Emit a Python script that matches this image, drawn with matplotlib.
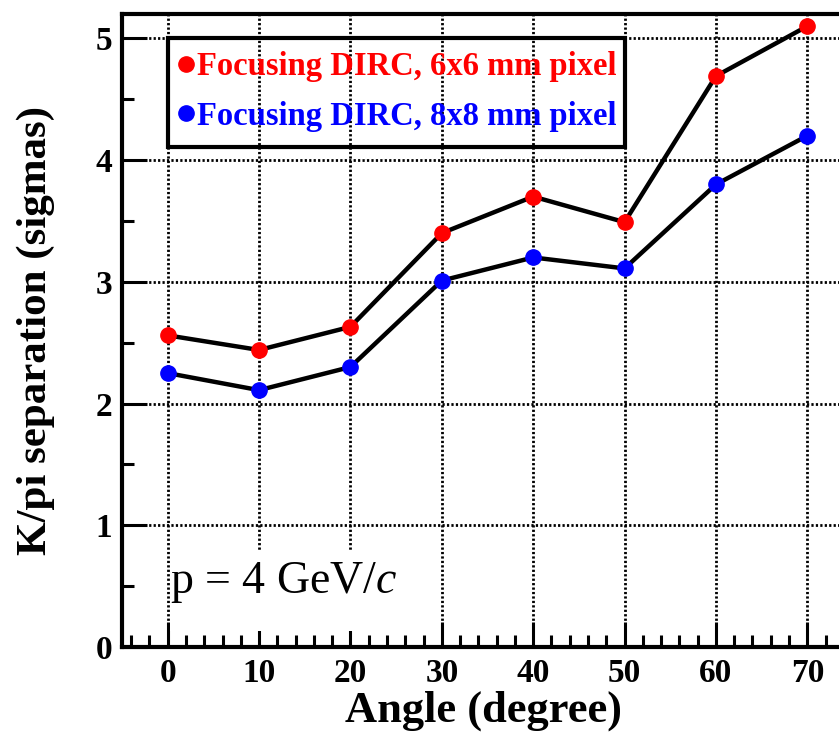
import matplotlib.pyplot as plt
from matplotlib.ticker import MultipleLocator
from matplotlib.lines import Line2D
from matplotlib.patches import Rectangle

angles = [0, 10, 20, 30, 40, 50, 60, 70]
sep_6mm = [2.56, 2.44, 2.63, 3.40, 3.70, 3.49, 4.69, 5.10]
sep_8mm = [2.25, 2.11, 2.30, 3.01, 3.20, 3.11, 3.80, 4.20]
labels = ['Focusing DIRC, 6x6 mm pixel', 'Focusing DIRC, 8x8 mm pixel']
colors = ['red', 'blue']

plt.rcParams['font.family'] = ['Liberation Serif', 'DejaVu Serif']
plt.rcParams['mathtext.fontset'] = 'custom'
plt.rcParams['mathtext.it'] = 'Liberation Serif:italic'
plt.rcParams['mathtext.rm'] = 'Liberation Serif'

W, H = 839, 733
fig = plt.figure(figsize=(W / 100, H / 100), dpi=100)
ax = fig.add_axes([122 / W, (H - 647) / H, 731 / W, 633 / H])

ax.plot(angles, sep_6mm, '-', color='black', lw=3.2, zorder=3)
ax.plot(angles, sep_6mm, 'o', color=colors[0], ms=11, zorder=4)
ax.plot(angles, sep_8mm, '-', color='black', lw=3.2, zorder=3)
ax.plot(angles, sep_8mm, 'o', color=colors[1], ms=11, zorder=4)

ax.set_xlim(-5, 75)
ax.set_ylim(0, 5.2)
ax.xaxis.set_major_locator(MultipleLocator(10))
ax.xaxis.set_minor_locator(MultipleLocator(2))
ax.yaxis.set_major_locator(MultipleLocator(1))
ax.yaxis.set_minor_locator(MultipleLocator(0.5))
ax.tick_params(which='both', direction='in', width=2.2, top=False, right=False)
ax.tick_params(which='major', length=18, labelsize=24)
ax.tick_params(axis='x', which='major', pad=8)
ax.tick_params(axis='y', which='major', pad=7)
ax.tick_params(which='minor', length=8.5)
for lab in ax.get_xticklabels() + ax.get_yticklabels():
    lab.set_fontweight('bold')
for sp in ax.spines.values():
    sp.set_linewidth(3)

ax.grid(True, which='major', color='black', linestyle=(0, (0.8, 0.8)), lw=2.0)
ax.set_axisbelow(True)

ax.set_xlabel('Angle (degree)', fontsize=32, fontweight='bold')
ax.xaxis.set_label_coords(0.495, -0.068)
ax.set_ylabel('K/pi separation (sigmas)', fontsize=31, fontweight='bold')
ax.yaxis.set_label_coords(-0.092, 0.5)

# white area behind the momentum label (hides grid lines there)
ax.add_patch(Rectangle((0.25, 0.13), 28.5, 0.66, facecolor='white', edgecolor='none', zorder=1))
ax.text(0.3, 0.44, r'p = 4 GeV/$\mathit{c}$', fontsize=33, ha='left', va='baseline', zorder=2)

# legend: frame from x=0 to x=50, top at y=5
ax.add_patch(Rectangle((0, 4.11), 50, 0.89, fill=False, edgecolor='black', lw=3, zorder=5))
handles = [Line2D([], [], marker='o', color=c, ls='none', ms=11) for c in colors]
leg = ax.legend(handles, labels, loc='upper left', bbox_to_anchor=(176 / W, 1 - 51 / H),
                bbox_transform=fig.transFigure, frameon=False,
                prop={'size': 23.5, 'weight': 'bold'}, handletextpad=0.05, handlelength=0.6,
                borderpad=0.0, labelspacing=0.57, borderaxespad=0.0)
for txt, c in zip(leg.get_texts(), colors):
    txt.set_color(c)

fig.savefig('out.png', dpi=100)
